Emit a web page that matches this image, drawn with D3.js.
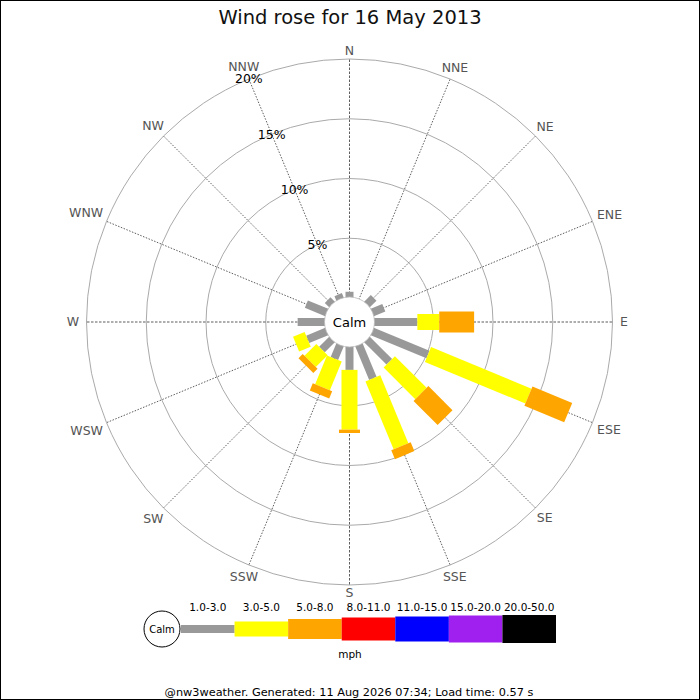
<!DOCTYPE html>
<html>
<head>
<meta charset="utf-8">
<script src="https://cdn.jsdelivr.net/npm/d3@7"></script>
<style>
  body { margin: 0; background: #fff; }
  svg { display: block; font-family: "DejaVu Sans", sans-serif; }
</style>
</head>
<body>
<svg id="rose" width="700" height="700"></svg>
<script>
const directions = ["N", "NNE", "NE", "ENE", "E", "ESE", "SE", "SSE",
                    "S", "SSW", "SW", "WSW", "W", "WNW", "NW", "NNW"];
const speedBands = ["1.0-3.0", "3.0-5.0", "5.0-8.0", "8.0-11.0", "11.0-15.0", "15.0-20.0", "20.0-50.0"];
// % of the day from each direction, one array per speed band
const band1to3 = [0.52, 0, 0.85, 1.1, 3.67, 5.1, 2.7, 3.1, 2.0, 1.3, 1.25, 1.78, 2.33, 1.9, 0.58, 0.47];
const band3to5 = [0, 0, 0, 0, 1.83, 9.1, 3.75, 6.15, 5.0, 2.6, 1.4, 1.05, 0, 0, 0, 0];
const band5to8 = [0, 0, 0, 0, 2.92, 3.6, 2.85, 0.8, 0.28, 0.65, 0.5, 0, 0, 0, 0, 0];
const band8to11 = [0, 0, 0, 0, 0, 0, 0, 0, 0, 0, 0, 0, 0, 0, 0, 0];
const band11to15 = [0, 0, 0, 0, 0, 0, 0, 0, 0, 0, 0, 0, 0, 0, 0, 0];
const band15to20 = [0, 0, 0, 0, 0, 0, 0, 0, 0, 0, 0, 0, 0, 0, 0, 0];
const band20to50 = [0, 0, 0, 0, 0, 0, 0, 0, 0, 0, 0, 0, 0, 0, 0, 0];
const ringTicks = [5, 10, 15, 20];

const bandColors = ["#999999", "#ffff00", "#ffa500", "#ff0000", "#0000ff", "#a020f0", "#000000"];
const barWidths = [8, 16, 21, 23, 25, 27, 28];
const legendHeights = [8, 15, 20, 23, 25, 27, 28];

const bandValues = [band1to3, band3to5, band5to8, band8to11, band11to15, band15to20, band20to50];
const rows = directions.map((dir, i) => {
  const row = { dir: dir };
  speedBands.forEach((b, k) => { row[b] = bandValues[k][i]; });
  return row;
});

const svg = d3.select("#rose");
const cx = 349.5, cy = 322;
const calmR = 25;

const angle = d3.scaleBand().domain(directions).range([0, 360]);
const r = d3.scaleLinear().domain([0, 20]).range([24, 263]);
const rad = a => a * Math.PI / 180;

svg.append("rect")
  .attr("x", 0.5).attr("y", 0.5).attr("width", 699).attr("height", 699)
  .attr("fill", "#fff").attr("stroke", "#000");

svg.append("text")
  .attr("x", 350).attr("y", 24)
  .attr("text-anchor", "middle")
  .attr("font-size", "19.5px")
  .attr("fill", "#111")
  .text("Wind rose for 16 May 2013");

const g = svg.append("g").attr("transform", "translate(" + cx + "," + cy + ")");

// rings
g.append("g").selectAll("circle")
  .data(ringTicks)
  .join("circle")
  .attr("r", d => r(d))
  .attr("fill", "none")
  .attr("stroke", "#aaa")
  .attr("stroke-width", 1);

// spokes
g.append("g").selectAll("line")
  .data(directions)
  .join("line")
  .attr("x1", 0).attr("y1", 0)
  .attr("x2", d => r(20) * Math.sin(rad(angle(d))))
  .attr("y2", d => -r(20) * Math.cos(rad(angle(d))))
  .attr("stroke", "#333")
  .attr("stroke-width", 0.8)
  .attr("stroke-dasharray", (d, i) => i % 4 === 0 ? "2.5,1.5" : "1.5,1.5");

// bars
const stacked = d3.stack().keys(speedBands)(rows);
const bars = g.append("g");
stacked.forEach((layer, k) => {
  bars.append("g").selectAll("rect")
    .data(layer.filter(d => d[1] - d[0] > 0))
    .join("rect")
    .attr("transform", d => "rotate(" + angle(d.data.dir) + ")")
    .attr("x", -barWidths[k] / 2)
    .attr("width", barWidths[k])
    .attr("y", d => -r(d[1]))
    .attr("height", d => r(d[1]) - r(d[0]))
    .attr("fill", bandColors[k]);
});

// calm hole
g.append("circle")
  .attr("r", calmR)
  .attr("fill", "#fff")
  .attr("stroke", "#bbb")
  .attr("stroke-width", 0.8);
g.append("text")
  .attr("text-anchor", "middle")
  .attr("dy", "0.35em")
  .attr("font-size", "13px")
  .attr("fill", "#000")
  .text("Calm");

// direction labels
g.append("g").selectAll("text")
  .data(directions)
  .join("text")
  .attr("text-anchor", "middle")
  .attr("dy", "0.35em")
  .attr("font-size", "12.5px")
  .attr("fill", "#555")
  .text(d => d)
  .each(function(d) {
    const a = rad(angle(d));
    const w = this.getComputedTextLength();
    const R = 271 + 0.45 * w * Math.abs(Math.sin(a));
    d3.select(this)
      .attr("x", R * Math.sin(a))
      .attr("y", -R * Math.cos(a));
  });

// percentage labels along NNW
const labA = rad(angle("NNW"));
g.append("g").selectAll("text")
  .data(ringTicks)
  .join("text")
  .attr("x", d => r(d) * Math.sin(labA))
  .attr("y", d => -r(d) * Math.cos(labA))
  .attr("text-anchor", "middle")
  .attr("dy", "0.35em")
  .attr("font-size", "12.5px")
  .attr("fill", "#000")
  .text(d => d + "%");

// legend
const legX = d3.scaleBand().domain(speedBands).range([181, 556]);
const legY = 629;
const leg = svg.append("g");
leg.selectAll("rect")
  .data(speedBands)
  .join("rect")
  .attr("x", d => legX(d))
  .attr("width", legX.bandwidth())
  .attr("y", (d, i) => legY - legendHeights[i] / 2)
  .attr("height", (d, i) => legendHeights[i])
  .attr("fill", (d, i) => bandColors[i]);
leg.selectAll("text.band")
  .data(speedBands)
  .join("text")
  .attr("class", "band")
  .attr("x", d => legX(d) + legX.bandwidth() / 2)
  .attr("y", 611)
  .attr("text-anchor", "middle")
  .attr("font-size", "10.5px")
  .attr("fill", "#000")
  .text(d => d);
leg.append("circle")
  .attr("cx", 162).attr("cy", legY).attr("r", 18)
  .attr("fill", "#fff").attr("stroke", "#000");
leg.append("text")
  .attr("x", 162).attr("y", legY).attr("dy", "0.35em")
  .attr("text-anchor", "middle")
  .attr("font-size", "10px")
  .text("Calm");
leg.append("text")
  .attr("x", 350).attr("y", 658)
  .attr("text-anchor", "middle")
  .attr("font-size", "10.5px")
  .text("mph");

svg.append("text")
  .attr("x", 349).attr("y", 696)
  .attr("text-anchor", "middle")
  .attr("font-size", "11.3px")
  .attr("fill", "#000")
  .text("@nw3weather. Generated: 11 Aug 2026 07:34; Load time: 0.57 s");
</script>
</body>
</html>
